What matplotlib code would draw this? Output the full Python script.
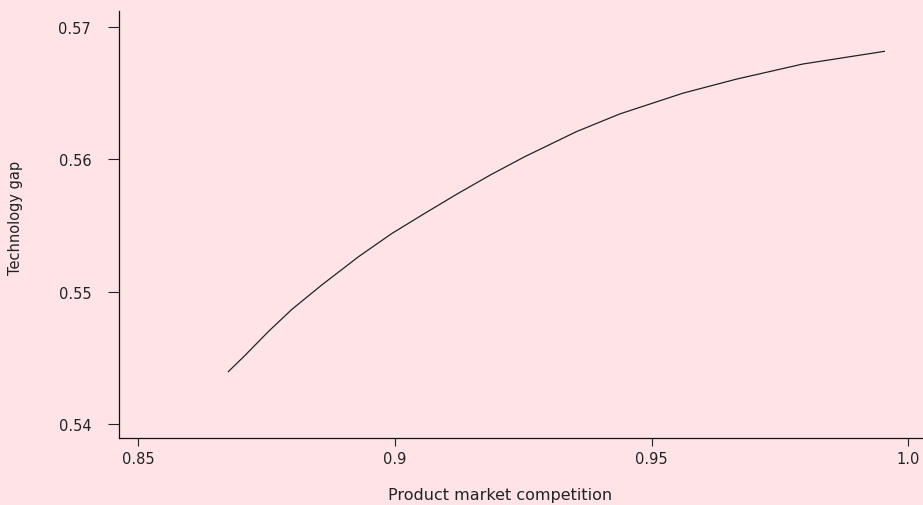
import numpy as np
import matplotlib
matplotlib.use("Agg")
import matplotlib.pyplot as plt

# values
competition = [0.8676, 0.8708, 0.8754, 0.8799, 0.8857, 0.8929, 0.8994,
               0.9058, 0.9123, 0.9188, 0.9253, 0.9354, 0.9438, 0.9561,
               0.9665, 0.9794, 0.9953]
tech_gap = [0.54396, 0.54517, 0.54699, 0.54864, 0.55048, 0.55263, 0.55439,
            0.55591, 0.55742, 0.55886, 0.56020, 0.56210, 0.56343, 0.56500,
            0.56606, 0.56720, 0.56816]

xticks = [0.85, 0.9, 0.95, 1.0]
xtick_labels = ["0.85", "0.9", "0.95", "1.0"]
yticks = [0.54, 0.55, 0.56, 0.57]
ytick_labels = ["0.54", "0.55", "0.56", "0.57"]

bg = "#fee4e6"
ink = "#222222"
plt.rcParams['font.family'] = ['DejaVu Sans']

fig = plt.figure(figsize=(9.23, 5.06), dpi=100, facecolor=bg)
ax = fig.add_axes([0.1289, 0.1324, 0.911, 0.8439])
ax.set_facecolor(bg)

ax.plot(competition, tech_gap, color=ink, lw=0.9)

ax.set_xlim(0.8463, 1.01)
ax.set_ylim(0.53894, 0.57121)

for s in ["top", "right"]:
    ax.spines[s].set_visible(False)
for s in ["left", "bottom"]:
    ax.spines[s].set_linewidth(0.9)
    ax.spines[s].set_color("#111111")

ax.set_xticks(xticks)
ax.set_xticklabels(xtick_labels)
ax.set_yticks(yticks)
ax.set_yticklabels(ytick_labels)
ax.tick_params(axis="x", direction="out", length=6, width=0.8, pad=3,
               labelsize=10.5, colors=ink)
ax.tick_params(axis="y", direction="out", length=8, width=0.8, pad=12,
               labelsize=10.5, colors=ink)

# axis titles placed where they sit in the reference
fig.text(500 / 923, 1 - 496 / 506, "Product market competition", ha="center",
         va="center", fontsize=11.5, color=ink)
fig.text(16 / 923, 1 - 218 / 506, "Technology gap", ha="center", va="center",
         rotation=90, fontsize=10.5, color=ink)

fig.savefig("out.png", dpi=100, facecolor=bg)
